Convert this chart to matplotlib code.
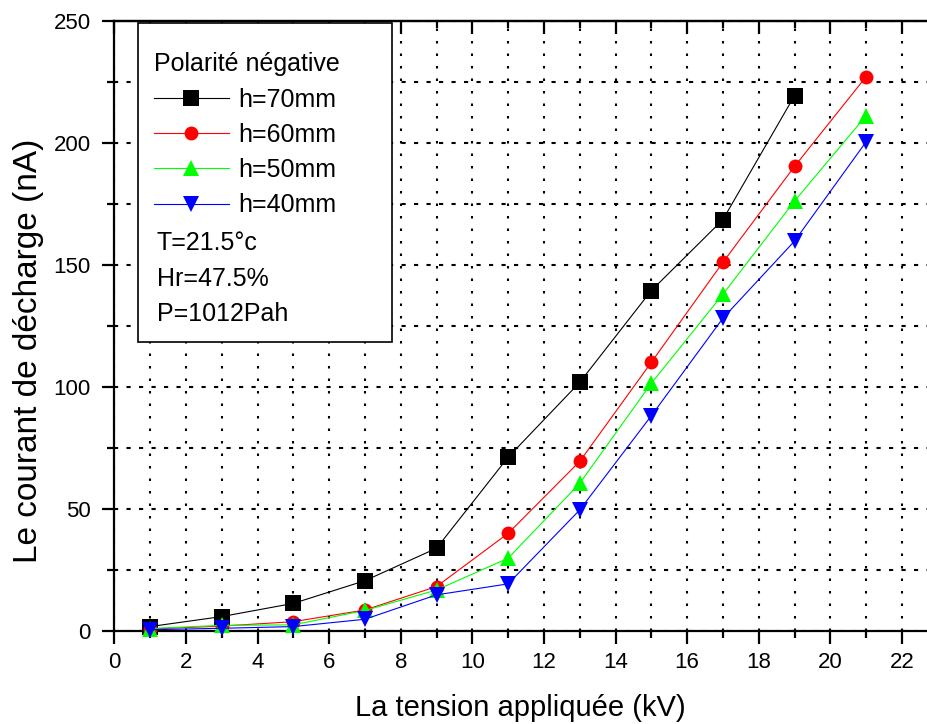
import matplotlib.pyplot as plt
import matplotlib as mpl
from matplotlib.patches import Rectangle
from matplotlib.ticker import MultipleLocator

# ==========================================
# style
# ==========================================
mpl.rcParams.update({
    "font.family": ["Liberation Sans", "DejaVu Sans"],
    "font.size": 15,
    "axes.linewidth": 1.6,
    "xtick.labelsize": 16, "ytick.labelsize": 16,
    "xtick.major.size": 9, "ytick.major.size": 9,
    "xtick.minor.size": 5, "ytick.minor.size": 5,
    "xtick.major.width": 1.6, "ytick.major.width": 1.6,
    "xtick.minor.width": 1.6, "ytick.minor.width": 1.6,
    "xtick.major.pad": 6, "ytick.major.pad": 8,
})

# --- data ---
tension = [1, 3, 5, 7, 9, 11, 13, 15, 17, 19, 21]
h70 = [1.8, 5.9, 11.3, 20.6, 33.9, 71.2, 101.9, 139.5, 168.6, 219.4]
h60 = [0.8, 2.0, 3.8, 8.6, 18.2, 40.0, 69.5, 110.1, 151.1, 190.4, 227.2]
h50 = [1.0, 2.3, 2.5, 8.4, 16.8, 29.8, 60.5, 101.5, 138.0, 176.2, 211.2]
h40 = [0.5, 1.1, 1.8, 4.8, 14.8, 19.3, 49.6, 88.2, 128.2, 159.8, 200.5]

series = [
    (h70, "black", "s", "h=70mm"),
    (h60, "red", "o", "h=60mm"),
    (h50, "#00ff00", "^", "h=50mm"),
    (h40, "blue", "v", "h=40mm"),
]
notes = ["T=21.5°c", "Hr=47.5%", "P=1012Pah"]

fig = plt.figure(figsize=(9.27, 7.24), dpi=100)
ax = fig.add_axes([0.1233, 0.1285, 0.8767, 0.8425])

handles = []
for vals, col, mk, lab in series:
    ln, = ax.plot(tension[:len(vals)], vals, color=col, lw=0.8, marker=mk,
                  ms=11 if mk != "o" else 10, mew=0, label=lab, clip_on=False, zorder=3)
    handles.append(ln)

ax.set_xlim(0, 22.7)
ax.set_ylim(0, 250)
ax.xaxis.set_major_locator(MultipleLocator(2))
ax.xaxis.set_minor_locator(MultipleLocator(1))
ax.yaxis.set_major_locator(MultipleLocator(50))
ax.yaxis.set_minor_locator(MultipleLocator(25))

# grille : pointillés verticaux, tirets horizontaux
ax.grid(which="both", axis="x", color="k", lw=1.5, ls=(0, (1.2, 4.8)), zorder=0)
ax.grid(which="both", axis="y", color="k", lw=1.5, ls=(0, (2, 4)), zorder=0)
ax.set_axisbelow(True)

ax.spines["right"].set_visible(False)
sec = ax.secondary_xaxis("top")
sec.xaxis.set_major_locator(MultipleLocator(2))
sec.xaxis.set_minor_locator(MultipleLocator(1))
sec.tick_params(which="both", direction="in", labeltop=False)
sec.spines["top"].set_linewidth(1.6)

ax.set_xlabel("La tension appliquée (kV)", fontsize=21)
ax.set_ylabel("Le courant de décharge (nA)", fontsize=24)
ax.xaxis.set_label_coords(0.5, -0.103)
ax.yaxis.set_label_coords(-0.086, 0.46)

# --- cadre de légende ---
box = Rectangle((0.0292, 0.4738), 0.3125, 0.5229, transform=ax.transAxes,
                facecolor="white", edgecolor="black", lw=1.2, zorder=5)
ax.add_patch(box)

leg = ax.legend(handles=handles, title="Polarité négative", loc="upper left",
                bbox_to_anchor=(0.036, 0.965), frameon=False, fontsize=18,
                title_fontsize=18, handlelength=3.0, handletextpad=0.4,
                labelspacing=0.45, borderaxespad=0, alignment="left")
leg.set_zorder(6)

for i, txt in enumerate(notes):
    ax.text(0.052, 0.636 - i * 0.0585, txt, transform=ax.transAxes, fontsize=18,
            va="center", ha="left", zorder=7)

plt.savefig("out.png", dpi=100)
